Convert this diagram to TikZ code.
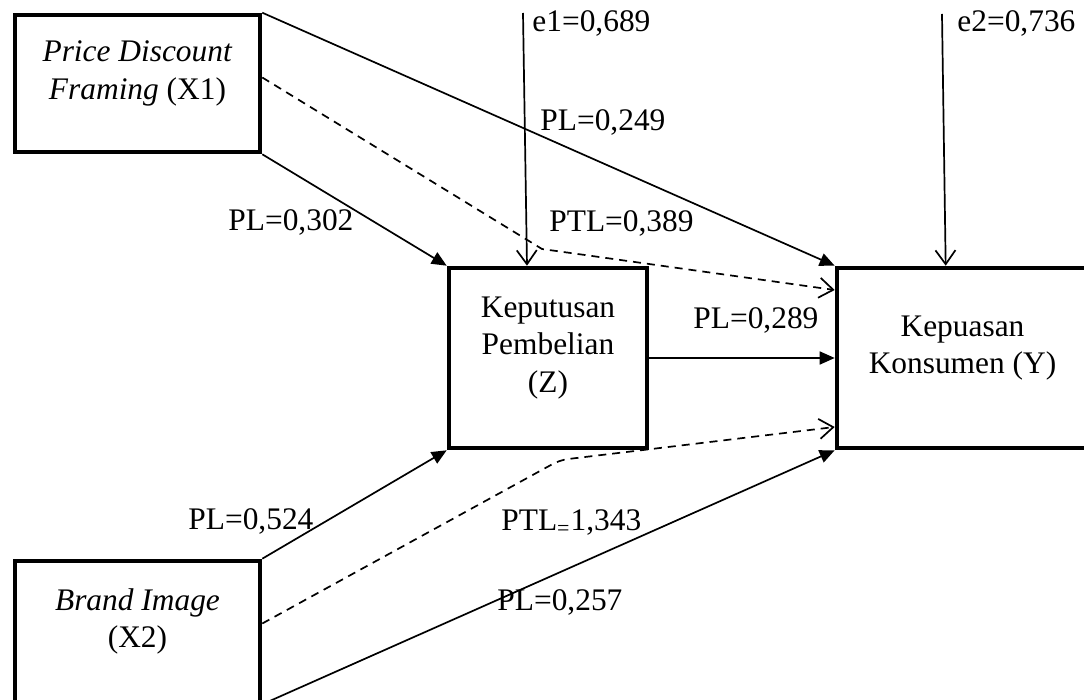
\documentclass[tikz,border=0pt]{standalone}
\usepackage{fontspec}
\setmainfont{Liberation Serif}
\usetikzlibrary{arrows.meta}

\begin{document}
\begin{tikzpicture}[x=0.5pt,y=-0.5pt,
  font=\fontsize{15.7}{18.75}\selectfont,
  box/.style={draw,line width=2.3pt,inner sep=0pt},
  boxtext/.style={align=center,yshift=5pt},
  pl/.style={line width=0.85pt,-{Triangle[length=7.5pt,width=6.5pt]}},
  ptl/.style={line width=0.85pt,dash pattern=on 4pt off 3pt,-{Straight Barb[length=7pt,width=10pt]}},
  err/.style={line width=0.85pt,-{Straight Barb[length=7pt,width=10pt]}},
  val/.style={anchor=base west,inner sep=0pt}]

\useasboundingbox (0,0) rectangle (1084,700);
\clip (0,0) rectangle (1084,700);

% variables
\node[box,minimum width=122.5pt,minimum height=68.5pt,
  label={[boxtext]center:{\textit{Price Discount}\\\textit{Framing} (X1)}}] (x1) at (137.5,83.5) {};
\node[box,minimum width=122.5pt,minimum height=70.5pt,
  label={[boxtext]center:{\textit{Brand Image}\\(X2)}}] (x2) at (137.5,631.5) {};
\node[box,minimum width=99pt,minimum height=90pt,
  label={[boxtext]center:{Keputusan\\Pembelian\\(Z)}}] (z) at (548,358) {};
\node[box,minimum width=125.5pt,minimum height=90pt,
  label={[boxtext]center:{Kepuasan\\Konsumen (Y)}}] (y) at (962.5,358) {};

% error terms
\coordinate (e1) at (523,13);
\coordinate (e2) at (942,14);
\draw[err] (e1) -- ([xshift=-10.5pt]z.north);
\draw[err] (e2) -- ([xshift=55.5pt]y.north west);

% direct paths
\draw[pl] (x1.north east) -- (y.north west);
\draw[pl] (x1.south east) -- (z.north west);
\draw[pl] (z.east) -- (y.west);
\draw[pl] (x2.north east) -- (z.south west);
\draw[pl] (x2.south east) -- (y.south west);

% indirect paths
\coordinate (k1) at (542,249);
\coordinate (k2) at (560,460);
\draw[ptl] ([yshift=3pt]x1.east) -- (k1) -- ([yshift=34pt]y.west);
\draw[ptl,rounded corners=4pt] ([yshift=4pt]x2.east) -- (k2) -- ([yshift=-34.5pt]y.west);

% coefficients
\node[val] (le1) at (532,32) {e1=0,689};
\node[val] (le2) at (957,32) {e2=0,736};
\node[val] (l249) at (540,131) {PL=0,249};
\node[val] (l302) at (228,231) {PL=0,302};
\node[val] (l389) at (549,232) {PTL=0,389};
\node[val] (l289) at (693,329) {PL=0,289};
\node[val] (l524) at (188,530) {PL=0,524};
\node[val] (l343) at (501,531) {PTL\textsubscript{=}1,343};
\node[val] (l257) at (497,611) {PL=0,257};

\end{tikzpicture}
\end{document}
